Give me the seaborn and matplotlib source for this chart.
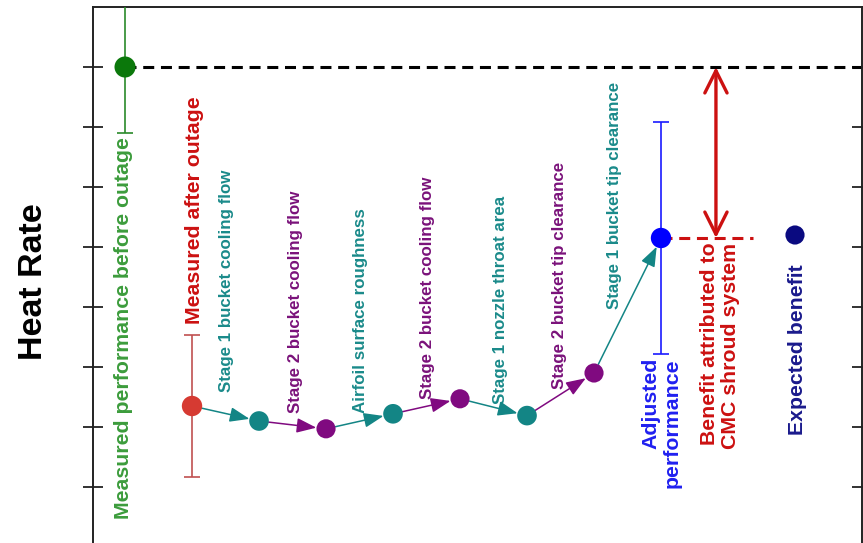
import matplotlib
matplotlib.use("Agg")
import matplotlib.pyplot as plt
import numpy as np
import pandas as pd
import seaborn as sns

# ---- data -------------------------------------------------------------
steps = ["before", "after", "s1_cool", "s2_cool_a", "roughness", "s2_cool_b",
         "nozzle", "s2_tip", "adjusted", "expected"]
step_x = [0, 1, 2, 3, 4, 5, 6, 7, 8, 10]
heat_rate = [8.00, 2.35, 2.10, 1.97, 2.22, 2.47, 2.19, 2.90, 5.15, 5.20]
kinds = ["before", "after", "teal", "purple", "teal", "purple", "teal",
         "purple", "adjusted", "expected"]

# uncertainty bands on the three measured/adjusted values
err_steps = ["before", "after", "adjusted"]
err_size = [1.10, 1.19, 1.93]

step_labels = ["Stage 1 bucket cooling flow", "Stage 2 bucket cooling flow",
               "Airfoil surface roughness", "Stage 2 bucket cooling flow",
               "Stage 1 nozzle throat area", "Stage 2 bucket tip clearance",
               "Stage 1 bucket tip clearance"]
step_label_kinds = ["teal", "purple", "teal", "purple", "teal", "purple", "teal"]

# ---- styles -----------------------------------------------------------
dot_colors = {"before": "#0b780b", "after": "#d63a32", "teal": "#138585",
              "purple": "#800a80", "adjusted": "#0000ff", "expected": "#0a0a80"}
text_colors = {"before": "#3c9c3c", "after": "#cc1111", "teal": "#1a8a8a",
               "purple": "#7a127a", "adjusted": "#2020f0", "expected": "#1a1a8c"}
bar_colors = {"before": "#2a8a2a", "after": "#c05050", "adjusted": "#1a1aff"}
dot_sizes = {"before": 230, "after": 215, "teal": 200, "purple": 190,
             "adjusted": 215, "expected": 190}

# step label placement (centre x, bottom y) in data units
label_x = [1.52, 2.54, 3.51, 4.51, 5.60, 6.49, 7.31]
label_y = [2.58, 2.23, 2.23, 2.47, 2.38, 2.63, 3.97]

sns.set_theme(style="white")
plt.rcParams["font.family"] = ["Liberation Sans", "DejaVu Sans"]

df = pd.DataFrame({"step": steps, "x": step_x, "heat_rate": heat_rate, "kind": kinds})

fig = plt.figure(figsize=(8.63, 5.43), dpi=100)
ax = fig.add_axes([93 / 863, -4 / 543, 769 / 863, 540 / 543])

sns.scatterplot(data=df, x="x", y="heat_rate", hue="kind", palette=dot_colors,
                size="kind", sizes=dot_sizes, linewidth=0, legend=False,
                ax=ax, zorder=5)

# error bars
for name, e in zip(err_steps, err_size):
    row = df[df["step"] == name].iloc[0]
    ax.errorbar(row["x"], row["heat_rate"], yerr=e, fmt="none",
                ecolor=bar_colors[name], elinewidth=1.2, capsize=5.5,
                capthick=1.2, zorder=3)

# step-by-step correction arrows, coloured like the correction they show
for i in range(1, 8):
    tgt = df.iloc[i + 1]
    src = df.iloc[i]
    ax.annotate("", xy=(tgt["x"], tgt["heat_rate"]),
                xytext=(src["x"], src["heat_rate"]),
                arrowprops=dict(arrowstyle="-|>,head_length=1.2,head_width=0.45",
                                color=dot_colors[step_label_kinds[i - 1]], lw=1.1,
                                shrinkA=7, shrinkB=7, mutation_scale=10),
                zorder=4)

before = df[df["step"] == "before"].iloc[0]
adjusted = df[df["step"] == "adjusted"].iloc[0]

# reference level before the outage
ax.plot([before["x"], 11.2], [before["heat_rate"]] * 2, color="black",
        lw=2.2, ls=(0, (3.6, 2.2)), zorder=2)
# adjusted level carried across to the benefit arrow
ax.plot([adjusted["x"], adjusted["x"] + 1.37], [adjusted["heat_rate"]] * 2,
        color="#cc1111", lw=2.2, ls=(0, (3.6, 2.2)), zorder=2)
# benefit attributed to the shroud system
ax.annotate("", xy=(adjusted["x"] + 0.82, before["heat_rate"]),
            xytext=(adjusted["x"] + 0.82, adjusted["heat_rate"]),
            arrowprops=dict(arrowstyle="<->,head_length=1.6,head_width=0.8",
                            color="#cc1111", lw=2.4, shrinkA=0, shrinkB=0,
                            mutation_scale=10),
            zorder=4)

# step labels
for i, txt in enumerate(step_labels):
    ax.text(label_x[i], label_y[i], txt, rotation=90, ha="center", va="bottom",
            fontsize=12.2, fontweight="bold",
            color=text_colors[step_label_kinds[i]])

big = dict(rotation=90, fontsize=15.3, fontweight="bold")
ax.text(-0.03, 6.83, "Measured performance before outage", ha="center", va="top",
        color=text_colors["before"], **big)
ax.text(1.03, 3.72, "Measured after outage", ha="center", va="bottom",
        color=text_colors["after"], **big)
ax.text(8.01, 3.15, "Adjusted\nperformance", ha="center", va="top",
        multialignment="right", linespacing=1.15,
        color=text_colors["adjusted"], **big)
ax.text(8.88, 5.07, "Benefit attributed to\nCMC shroud system", ha="center",
        va="top", multialignment="right", linespacing=1.15,
        color=text_colors["after"], **big)
ax.text(10.03, 4.72, "Expected benefit", ha="center", va="top",
        color=text_colors["expected"], **big)

fig.text(34 / 863, 1 - 282 / 543, "Heat Rate", rotation=90, ha="center",
         va="center", fontsize=24.5, fontweight="bold", color="black")

ax.set_xlim(-0.478, 11.0)
ax.set_ylim(0, 9)
ax.set_yticks([1, 2, 3, 4, 5, 6, 7, 8])
ax.set_yticklabels([])
ax.set_xticks([])
ax.set_xlabel("")
ax.set_ylabel("")
ax.tick_params(axis="y", which="major", left=True, right=True,
               direction="inout", length=14, width=1.3, color="#222222")
for sp in ax.spines.values():
    sp.set_visible(True)
    sp.set_linewidth(1.4)
    sp.set_color("#222222")

fig.savefig("out.png", dpi=100)
